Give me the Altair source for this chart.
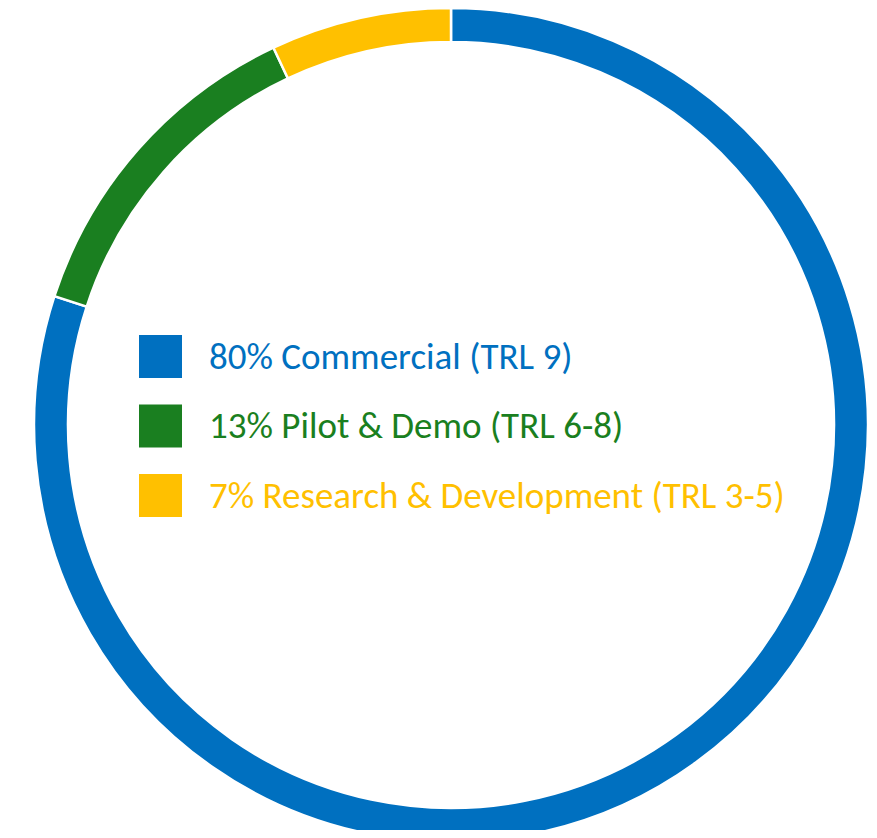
import altair as alt
import pandas as pd

categories = ["Commercial (TRL 9)", "Pilot & Demo (TRL 6-8)", "Research & Development (TRL 3-5)"]
shares = [80, 13, 7]
labels = ["80% Commercial (TRL 9)", "13% Pilot & Demo (TRL 6-8)", "7% Research & Development (TRL 3-5)"]
colors = ["#0070C0", "#1A7F20", "#FFC000"]

df = pd.DataFrame({
    "category": categories,
    "share": shares,
    "label": labels,
    "order": list(range(len(categories))),
})

color_scale = alt.Scale(domain=categories, range=colors)

ring = alt.Chart(df).mark_arc(
    outerRadius=417, innerRadius=383, stroke="white", strokeWidth=2.5
).encode(
    theta=alt.Theta("share:Q", stack=True),
    order=alt.Order("order:Q"),
    color=alt.Color("category:N", scale=color_scale, legend=None),
    x=alt.value(443),
    y=alt.value(417),
)

ypos = alt.Y("category:N", sort=categories, axis=None,
             scale=alt.Scale(type="point", domain=categories, range=[348.5, 487.5], padding=0))

squares = alt.Chart(df).mark_square(size=1849, opacity=1).encode(
    x=alt.value(152.5),
    y=ypos,
    color=alt.Color("category:N", scale=color_scale, legend=None),
)

texts = alt.Chart(df).mark_text(
    align="left", baseline="middle", fontSize=37, font="Carlito, Lato", dy=1
).encode(
    x=alt.value(201),
    y=ypos,
    text="label:N",
    color=alt.Color("category:N", scale=color_scale, legend=None),
)

chart = alt.layer(ring, squares, texts).properties(
    width=861, height=822,
    autosize=alt.AutoSizeParams(type="none"),
    padding=0,
).configure_view(stroke=None)

chart.save("out.html", embed_options={"renderer": "svg", "actions": False})
